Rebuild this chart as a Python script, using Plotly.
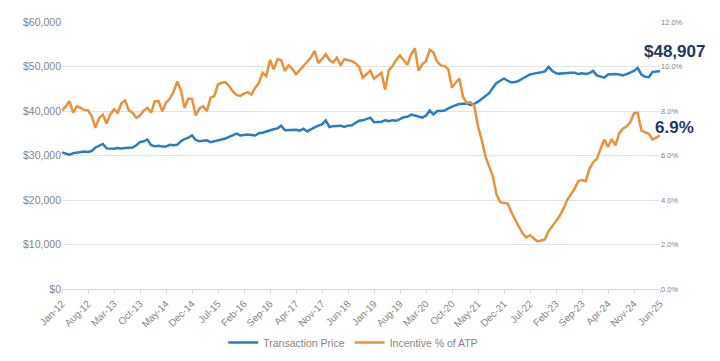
import plotly.graph_objects as go
import pandas as pd

months = list(pd.date_range("2012-01-01", "2025-06-01", freq="MS").strftime("%b-%y"))

transaction_price = [
    30700, 30400, 30200, 30500, 30600, 30700, 30900, 30800, 31000, 31800,
    32200, 32600, 31600, 31500, 31500, 31700, 31600, 31700, 31700, 31800,
    32300, 33000, 33200, 33600, 32300, 32100, 32200, 32000, 32000, 32400,
    32300, 32400, 33200, 33700, 34000, 34500, 33500, 33200, 33300, 33400,
    33000, 33200, 33400, 33500, 33800, 34200, 34600, 34900, 34500, 34600,
    34700, 34600, 34500, 35000, 35100, 35400, 35700, 35900, 36100, 36700,
    35700, 35700, 35800, 35800, 35600, 36000, 35400, 35900, 36300, 36700,
    37000, 37900, 36400, 36600, 36600, 36700, 36400, 36700, 36800, 37400,
    37800, 37900, 38200, 38500, 37500, 37500, 37600, 37900, 37700, 37900,
    37800, 38200, 38600, 38700, 39200, 39000, 38700, 38500, 39000, 40100,
    39200, 40000, 40000, 40100, 40600, 41000, 41300, 41600, 41700, 41700,
    41300, 41600, 42100, 42800, 43400, 44000, 45200, 46300, 46800, 47300,
    46800, 46400, 46500, 46800, 47300, 47800, 48200, 48400, 48500, 48700,
    48900, 49900, 49000, 48500, 48400, 48500, 48500, 48600, 48600, 48300,
    48500, 48300, 48500, 49000, 48000, 47700, 47500, 48200, 48300, 48300,
    48200, 48000, 48300, 48600, 49000, 49700, 48200, 47700, 47600, 48800,
    48800, 48907,
]

incentive_pct = [
    8.02, 8.20, 8.44, 7.93, 8.22, 8.14, 8.05, 8.03, 7.77, 7.24,
    7.69, 7.84, 7.44, 7.85, 8.07, 7.92, 8.35, 8.47, 8.03, 7.92,
    7.69, 7.80, 8.02, 8.15, 7.93, 8.44, 8.45, 7.99, 8.37, 8.55,
    8.85, 9.32, 8.95, 8.14, 8.55, 8.55, 7.80, 8.12, 8.22, 7.99,
    8.60, 8.67, 9.20, 9.27, 9.30, 9.12, 8.88, 8.72, 8.68, 8.78,
    8.85, 8.74, 9.05, 9.25, 9.72, 9.57, 10.30, 9.87, 10.33, 10.29,
    9.80, 10.05, 9.90, 9.65, 9.85, 10.00, 10.20, 10.40, 10.70, 10.15,
    10.33, 10.55, 10.29, 10.18, 10.40, 10.05, 10.33, 10.30, 10.25, 10.15,
    9.98, 9.50, 9.65, 9.82, 9.45, 9.58, 9.72, 8.96, 9.84, 10.02,
    10.30, 10.50, 10.27, 10.08, 10.55, 10.82, 9.82, 10.10, 10.25, 10.75,
    10.63, 10.22, 10.05, 10.03, 9.87, 9.05, 9.28, 9.45, 8.62, 8.36,
    8.40, 8.22, 7.31, 6.70, 5.96, 5.50, 5.06, 4.23, 3.90, 3.86,
    3.85, 3.45, 3.10, 2.80, 2.50, 2.32, 2.42, 2.30, 2.14, 2.18,
    2.23, 2.60, 2.80, 3.05, 3.30, 3.60, 4.00, 4.25, 4.50, 4.85,
    4.90, 4.85, 5.40, 5.70, 5.85, 6.30, 6.72, 6.38, 6.74, 6.45,
    7.00, 7.20, 7.30, 7.50, 7.90, 7.92, 7.12, 7.04, 6.98, 6.72,
    6.82, 6.90,
]

tick_labels = months[::7]
left_ticks = [0, 10000, 20000, 30000, 40000, 50000, 60000]
left_tick_text = ["$0", "$10,000", "$20,000", "$30,000", "$40,000", "$50,000", "$60,000"]
right_ticks = [0, 2, 4, 6, 8, 10, 12]
right_tick_text = ["0.0%", "2.0%", "4.0%", "6.0%", "8.0%", "10.0%", "12.0%"]

BLUE = "#2B7DC0"
ORANGE = "#E9913C"
NAVY = "#1F3864"
GRAY = "#858585"

fig = go.Figure()
fig.add_trace(go.Scatter(x=months, y=transaction_price, name="Transaction Price",
                         mode="lines", line=dict(color=BLUE, width=2.5), yaxis="y"))
fig.add_trace(go.Scatter(x=months, y=incentive_pct, name="Incentive % of ATP",
                         mode="lines", line=dict(color=ORANGE, width=2.5), yaxis="y2"))

fig.add_annotation(x=months[-1], y=transaction_price[-1], yref="y", text="<b>$48,907</b>",
                   showarrow=False, xanchor="center", yanchor="middle", xshift=14, yshift=20,
                   font=dict(size=17, color=NAVY, family="Arial"))
fig.add_annotation(x=months[-1], y=incentive_pct[-1], yref="y2", text="<b>6.9%</b>",
                   showarrow=False, xanchor="center", yanchor="middle", xshift=14, yshift=8,
                   font=dict(size=17, color=NAVY, family="Arial"))

fig.update_layout(
    width=720, height=361,
    margin=dict(l=62, r=60, t=22, b=72, autoexpand=False),
    paper_bgcolor="white", plot_bgcolor="white",
    font=dict(family="Arial", color=GRAY, size=10),
    showlegend=True,
    legend=dict(orientation="h", x=0.487, xanchor="center", y=-0.2, yanchor="middle",
                font=dict(size=10.5, color=GRAY), bgcolor="rgba(0,0,0,0)"),
    xaxis=dict(type="category", range=[0, len(months) - 1],
               tickmode="array", tickvals=tick_labels, ticktext=tick_labels,
               tickangle=-45, tickfont=dict(size=10, color=GRAY),
               showgrid=False, showline=True, linecolor="#d9d9d9", linewidth=1,
               ticks="outside", ticklen=4, tickcolor="#d9d9d9", zeroline=False),
    yaxis=dict(range=[0, 60000], tickvals=left_ticks, ticktext=left_tick_text,
               tickfont=dict(size=10.5, color=GRAY), showgrid=True, gridcolor="#e3e3e3",
               gridwidth=1, zeroline=False, ticks="", showline=False),
    yaxis2=dict(range=[0, 12], tickvals=right_ticks, ticktext=right_tick_text,
                overlaying="y", side="right", showgrid=False, zeroline=False,
                tickfont=dict(size=7.5, color=GRAY), ticks="", showline=False),
)

fig.write_html("out.html", config={"displayModeBar": False},
               post_script="document.body.style.margin='0px';")
